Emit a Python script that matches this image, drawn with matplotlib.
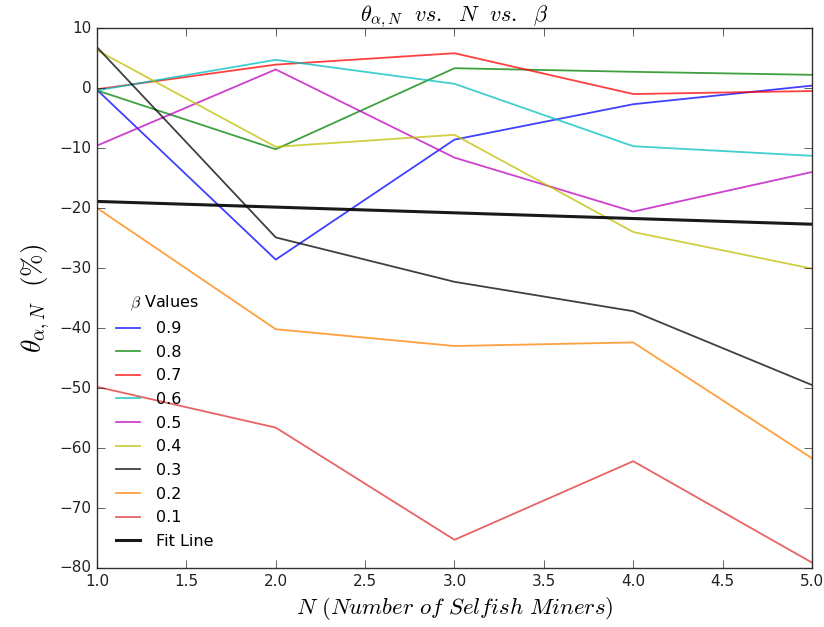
import matplotlib
matplotlib.use("Agg")
import matplotlib.pyplot as plt
import numpy as np

plt.style.use("classic")
plt.rcParams["mathtext.fontset"] = "cm"
plt.rcParams["font.family"] = ["DejaVu Sans"]

# Number of selfish miners
n_miners = [1, 2, 3, 4, 5]

# theta_{alpha,N} (%) for each beta value
beta_labels = ["0.9", "0.8", "0.7", "0.6", "0.5", "0.4", "0.3", "0.2", "0.1"]
theta_09 = [-0.3, -28.6, -8.6, -2.7, 0.4]
theta_08 = [-0.4, -10.2, 3.3, 2.7, 2.2]
theta_07 = [-0.2, 3.9, 5.8, -1.0, -0.5]
theta_06 = [-0.4, 4.7, 0.7, -9.7, -11.3]
theta_05 = [-9.6, 3.1, -11.6, -20.6, -14.0]
theta_04 = [6.3, -9.8, -7.8, -24.0, -30.1]
theta_03 = [6.8, -24.9, -32.3, -37.2, -49.5]
theta_02 = [-20.0, -40.2, -43.0, -42.4, -61.7]
theta_01 = [-49.8, -56.6, -75.3, -62.2, -79.1]
fit_line = [-18.9, -19.85, -20.8, -21.75, -22.7]

series = [theta_09, theta_08, theta_07, theta_06, theta_05,
          theta_04, theta_03, theta_02, theta_01]
colors = ["#0000ff", "#008000", "#ff0000", "#00bfbf", "#bf00bf",
          "#bfbf00", "#000000", "#ff8000", "#e03030"]

fig = plt.figure(figsize=(8.24, 6.27), dpi=100, facecolor="white")
ax = fig.add_axes([0.1177, 0.0941, 0.8677, 0.8612])
ax.set_facecolor("white")

for vals, lab, col in zip(series, beta_labels, colors):
    ax.plot(n_miners, vals, color=col, lw=1.3, alpha=0.75, label=lab)
ax.plot(n_miners, fit_line, color="black", lw=2.2, alpha=0.9, label="Fit Line")

ax.set_xlim(1.0, 5.0)
ax.set_ylim(-80, 10)
ax.set_xticks(np.arange(1.0, 5.01, 0.5))
ax.set_yticks(np.arange(-80, 11, 10))
ax.tick_params(labelsize=11, colors="#222222", length=6)
for sp in ax.spines.values():
    sp.set_color("#333333")

ax.set_title(r"$\theta_{\alpha,N}\ \ vs.\ \ N\ \ vs.\ \ \beta$", fontsize=16)
ax.set_xlabel(r"$N\ (Number\ of\ Selfish\ Miners)$", fontsize=16.5)
ax.set_ylabel(r"$\theta_{\alpha,N}\ \ (\%)$", fontsize=19.5)

leg = ax.legend(loc="lower left", frameon=False, fontsize=11.5,
                title=r"$\beta$ Values", title_fontsize=11.5,
                handlelength=1.5, handletextpad=1.0, labelspacing=0.54,
                borderaxespad=0.8, numpoints=1)

fig.savefig("out.png", dpi=100, facecolor="white")
